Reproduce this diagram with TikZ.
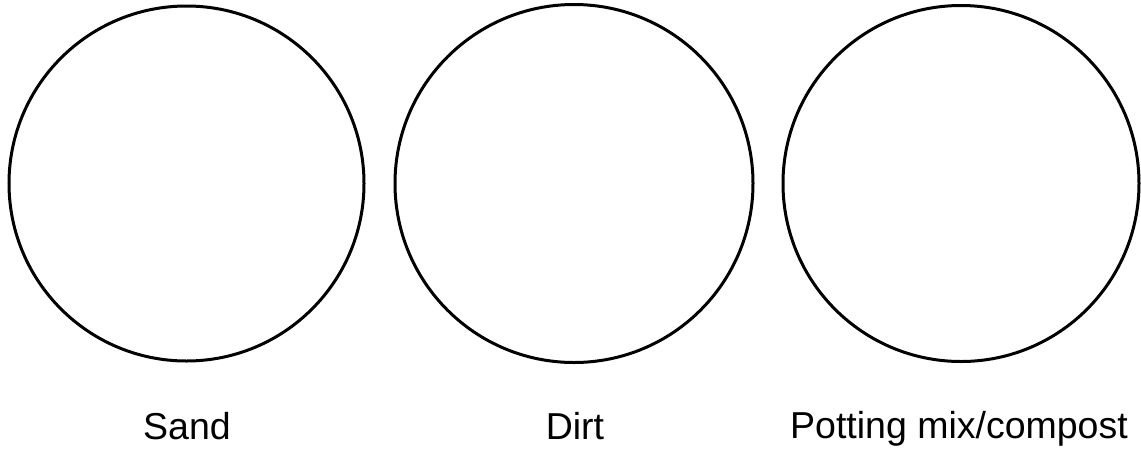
\documentclass[tikz,border=0pt]{standalone}
\usepackage{fontspec}
\setmainfont{Liberation Sans}
\begin{document}
\begin{tikzpicture}[x=1pt,y=-1pt,
  pot/.style={draw=black,line width=3pt,circle,minimum size=355pt,inner sep=0pt},
  lbl/.style={anchor=base,inner sep=0pt,font=\fontsize{37.5}{42}\selectfont}]
\useasboundingbox[fill=white] (0,0) rectangle (1141,448);
\node[pot] (c1) at (186.5,183.5) {};
\node[pot,minimum size=358pt] (c2) at (574,183.5) {};
\node[pot,minimum size=356pt] (c3) at (961,183.5) {};
\node[lbl] (l1) at (187,439) {Sand};
\node[lbl] (l2) at (575,439) {Dirt};
\node[lbl] (l3) at (959,438) {Potting mix/compost};
\end{tikzpicture}
\end{document}
